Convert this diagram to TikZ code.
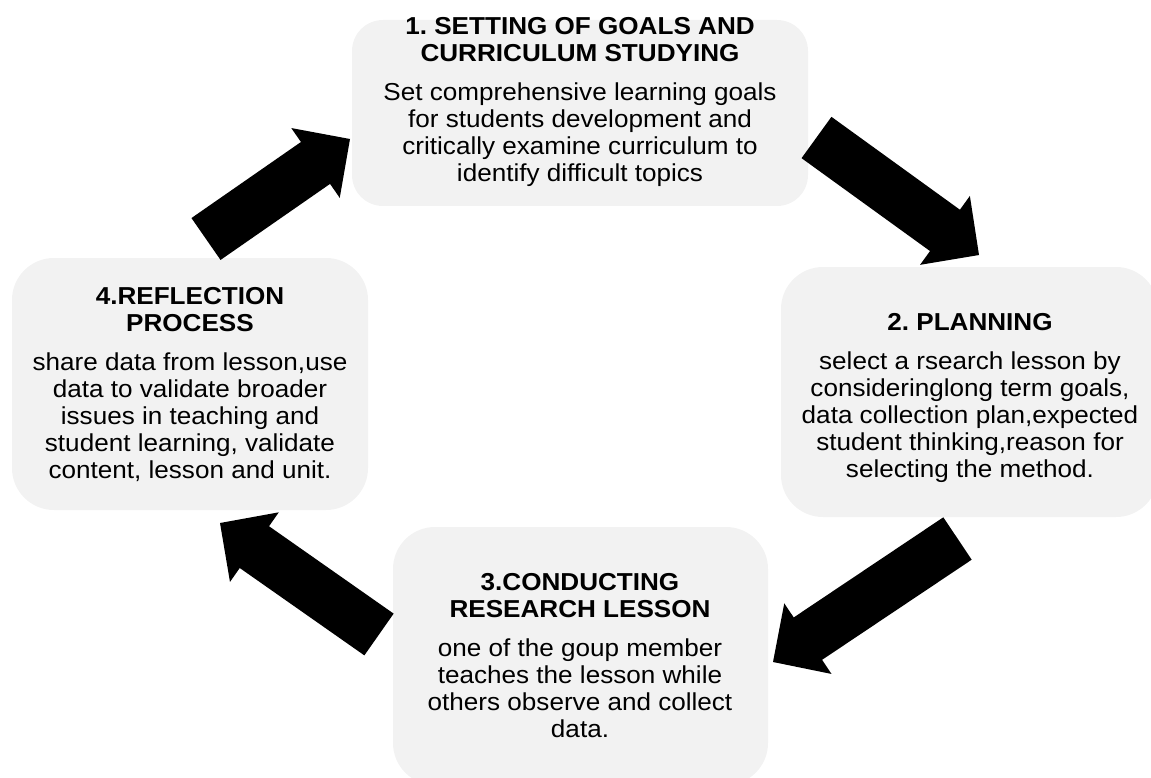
\documentclass[tikz,border=0pt]{standalone}
\usepackage{fontspec}
\setmainfont{Liberation Sans}[FakeStretch=1.065]
\usetikzlibrary{calc}
\definecolor{boxgray}{HTML}{F2F2F2}
\tikzset{
  box/.style={fill=boxgray, draw=none, rounded corners=#1},
  txt/.style={align=center, inner sep=0pt, anchor=north, text=black,
    font=\fontsize{24.5}{27}\selectfont\frenchspacing},
  arrowfill/.style={fill=black},
}
\newcommand\blockarrow[2]{%
  \coordinate (ba-n) at ($(#2)!42pt!(#1)$);
  \fill[arrowfill] ($(#1)!25.5pt!90:(#2)$) -- ($(ba-n)!25.5pt!90:(#2)$)
    -- ($(ba-n)!42.5pt!90:(#2)$) -- (#2) -- ($(ba-n)!42.5pt!-90:(#2)$)
    -- ($(ba-n)!25.5pt!-90:(#2)$) -- ($(#1)!25.5pt!-90:(#2)$) -- cycle;
}
\begin{document}
\begin{tikzpicture}[x=1pt,y=-1pt]
\useasboundingbox (0,0) rectangle (1151,778);
% boxes
\node[box=31pt, minimum width=456pt, minimum height=186pt] (b1) at (580,113) {};
\node[box=42pt, minimum width=377pt, minimum height=250pt] (b2) at (969.5,392) {};
\node[box=42pt, minimum width=375pt, minimum height=258pt] (b3) at (580.5,656) {};
\node[box=42pt, minimum width=356pt, minimum height=252pt] (b4) at (190,384) {};
% texts
\node[txt] (t1) at (580,17.5) {\textbf{1. SETTING OF GOALS AND}\\\textbf{CURRICULUM STUDYING}\\[12pt]
  Set comprehensive learning goals\\for students development and\\critically examine curriculum to\\identify difficult topics};
\node[txt] (t2) at (970,312.7) {\textbf{2. PLANNING}\\[12pt]
  select a rsearch lesson by\\consideringlong term goals,\\data collection plan,expected\\student thinking,reason for\\selecting the method.};
\node[txt] (t3) at (580,573) {\textbf{3.CONDUCTING}\\\textbf{RESEARCH LESSON}\\[12pt]
  one of the goup member\\teaches the lesson while\\others observe and collect\\data.};
\node[txt] (t4) at (190,287.5) {\textbf{4.REFLECTION}\\\textbf{PROCESS}\\[12pt]
  share data from lesson,use\\data to validate broader\\issues in teaching and\\student learning, validate\\content, lesson and unit.};
% arrows
\coordinate (a1t) at (206,239);   \coordinate (a1h) at (350,139);
\coordinate (a2t) at (816.5,137.5); \coordinate (a2h) at (979,255);
\coordinate (a3t) at (957.5,538.5); \coordinate (a3h) at (773,662);
\coordinate (a4t) at (379,634.5); \coordinate (a4h) at (220,523);
\blockarrow{a1t}{a1h}
\blockarrow{a2t}{a2h}
\blockarrow{a3t}{a3h}
\blockarrow{a4t}{a4h}
\end{tikzpicture}
\end{document}
